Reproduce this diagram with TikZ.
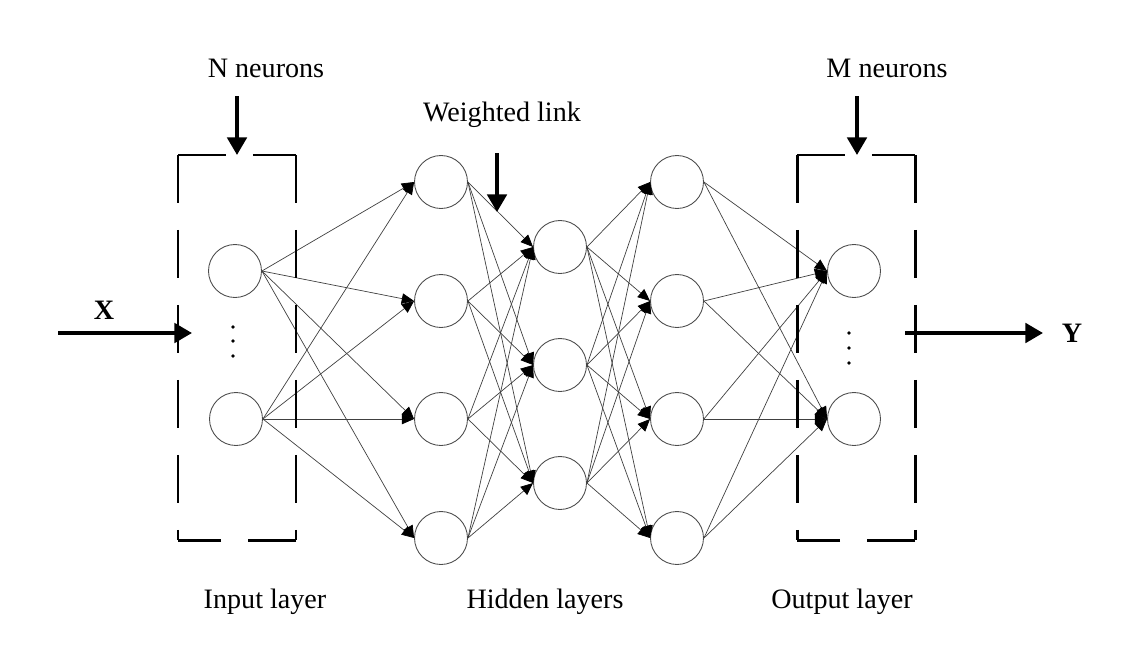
\documentclass[tikz,border=0pt]{standalone}
\usepackage{fontspec}
\setmainfont{Liberation Serif}
\usetikzlibrary{arrows.meta}
\tikzset{
  neuron/.style={circle,draw=black!70,line width=0.5pt,minimum size=1.06cm,inner sep=0pt},
  wlink/.style={draw=black!75,line width=0.4pt,-{Triangle[length=7pt,width=6pt,color=black]}},
  bigarrow/.style={line width=2.2pt,-{Triangle[length=10pt,width=11pt]}},
  dashbox/.style={line width=1.7pt,dash pattern=on 0.96cm off 0.54cm},
  lab/.style={font=\fontsize{16}{19}\selectfont}
}
\begin{document}
\begin{tikzpicture}[x=0.02cm,y=-0.02cm]
\useasboundingbox (0,0) rectangle (1132,666);
\node[neuron] (in1) at (235,271) {};
\node[neuron] (in2) at (236,419) {};
\foreach \y [count=\k] in {182,301,419,538}
  \node[neuron] (ha\k) at (441,\y) {};
\foreach \y [count=\k] in {247,365,483}
  \node[neuron] (hb\k) at (560,\y) {};
\foreach \y [count=\k] in {182,301,419,538}
  \node[neuron] (hc\k) at (677,\y) {};
\node[neuron] (out1) at (854,271) {};
\node[neuron] (out2) at (854,419) {};
\foreach \a in {1,2}
  \foreach \b in {1,...,4}
    \draw[wlink] (in\a.east) -- (ha\b.west);
\foreach \a in {1,...,4}
  \foreach \b in {1,2,3}
    \draw[wlink] (ha\a.east) -- (hb\b.west);
\foreach \a in {1,2,3}
  \foreach \b in {1,...,4}
    \draw[wlink] (hb\a.east) -- (hc\b.west);
\foreach \a in {1,...,4}
  \foreach \b in {1,2}
    \draw[wlink] (hc\a.east) -- (out\b.west);
\foreach \y in {327,341,356}
  \fill (233,\y) circle (1.1pt);
\foreach \y in {333,348,363}
  \fill (849,\y) circle (1.1pt);
\foreach \x in {178,797}{
  \draw[dashbox] (\x,155) -- (\x+118,155);
  \draw[dashbox] (\x+118,155) -- (\x+118,540);
  \draw[dashbox] (\x+118,540) -- (\x,540);
  \draw[dashbox] (\x,155) -- (\x,540);
}
\node[lab] (nlab) at (266,68) {N neurons};
\node[lab] (mlab) at (887,68) {M neurons};
\node[lab] (wlab) at (502,115) {Weighted link};
\node[lab] (inlab) at (265,602) {Input layer};
\node[lab] (hidlab) at (545,602) {Hidden layers};
\node[lab] (outlab) at (842,602) {Output layer};
\node[lab,font=\fontsize{16}{19}\selectfont\bfseries] (xlab) at (104,310) {X};
\node[lab,font=\fontsize{16}{19}\selectfont\bfseries] (ylab) at (1072,333) {Y};
\coordinate (na) at (237,96);
\coordinate (nb) at (237,155);
\coordinate (ma) at (857,96);
\coordinate (mb) at (857,155);
\coordinate (wa) at (497,153);
\coordinate (wb) at (497,212);
\coordinate (xa) at (58,333);
\coordinate (xb) at (192,333);
\coordinate (ya) at (905,333);
\coordinate (yb) at (1043,333);
\draw[bigarrow] (na) -- (nb);
\draw[bigarrow] (ma) -- (mb);
\draw[bigarrow] (wa) -- (wb);
\draw[bigarrow] (xa) -- (xb);
\draw[bigarrow] (ya) -- (yb);
\end{tikzpicture}
\end{document}
